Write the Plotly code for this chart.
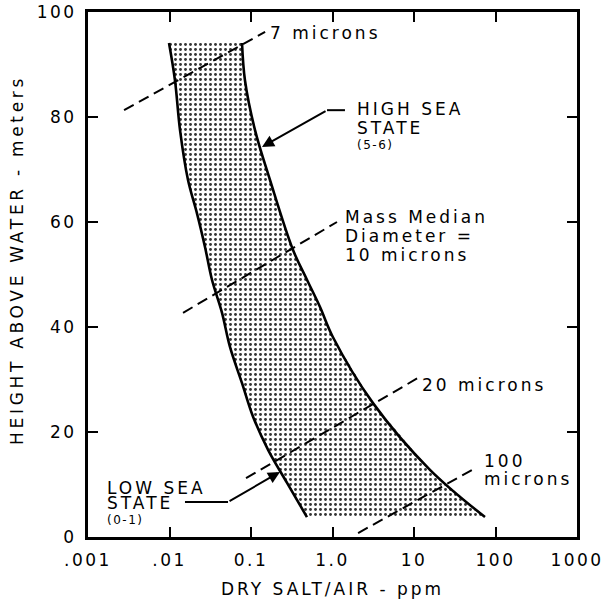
import plotly.graph_objects as go
import math

# ---- data ----
low_sea_x = [0.00986, 0.01167, 0.01346, 0.01687, 0.0217, 0.0273, 0.0332, 0.0441,
             0.0552, 0.0776, 0.106, 0.162, 0.277, 0.486]
low_sea_y = [94.1, 87.0, 77.5, 68.0, 61.7, 55.2, 49.0, 42.7, 36.2, 29.3, 22.9, 16.6, 10.3, 3.8]

high_sea_x = [0.0776, 0.0843, 0.112, 0.171, 0.327, 0.486, 0.703, 1.01, 3.14, 15.7, 74.3]
high_sea_y = [94.1, 87.0, 77.5, 68.0, 54.7, 49.0, 43.8, 38.1, 25.5, 12.8, 3.8]

micron_sizes = ["7", "10", "20", "100"]
micron_x = [[0.00277, 0.149], [0.01466, 1.135], [0.0869, 11.2], [2.06, 59.3]]
micron_y = [[81.3, 96.2], [42.7, 60.0], [11.2, 30.3], [0.76, 13.3]]

x_tickvals = [0.001, 0.01, 0.1, 1, 10, 100, 1000]
x_ticktext = [".001", ".01", "0.1", "1.0", "10", "100", "1000"]
y_tickvals = [0, 20, 40, 60, 80, 100]

FONT = "DejaVu Sans"


def sp(t, ls=3):
    return f"<span style='letter-spacing:{ls}px'>{t}</span>"


fig = go.Figure()

# stippled band between low and high sea state
fig.add_trace(go.Scatter(
    x=low_sea_x + high_sea_x[::-1], y=low_sea_y + high_sea_y[::-1],
    mode="lines", line=dict(width=0, color="rgba(0,0,0,0)"),
    fill="toself", fillcolor="rgba(0,0,0,0)",
    fillpattern=dict(shape=".", size=5, solidity=0.26, fgcolor="#333333",
                     bgcolor="white", fillmode="replace"),
    showlegend=False, hoverinfo="skip"))

for cx, cy in ((low_sea_x, low_sea_y), (high_sea_x, high_sea_y)):
    fig.add_trace(go.Scatter(
        x=cx, y=cy, mode="lines",
        line=dict(color="black", width=2.6, shape="spline", smoothing=1.0),
        showlegend=False, hoverinfo="skip"))

# mass median diameter lines
for xs, ys in zip(micron_x, micron_y):
    fig.add_trace(go.Scatter(
        x=xs, y=ys, mode="lines",
        line=dict(color="black", width=2, dash="11px,6px"),
        showlegend=False, hoverinfo="skip"))

# leader lines (horizontal parts)
fig.add_trace(go.Scatter(x=[10 ** 0.153, 10 ** -0.067], y=[81.3, 81.3], mode="lines",
                         line=dict(color="black", width=2), showlegend=False, hoverinfo="skip"))
fig.add_trace(go.Scatter(x=[10 ** -1.81, 10 ** -1.282], y=[6.67, 6.67], mode="lines",
                         line=dict(color="black", width=2), showlegend=False, hoverinfo="skip"))

ann = []
ann.append(dict(x=-0.865, y=74.3, ax=-0.067, ay=81.3, xref="x", yref="y", axref="x", ayref="y",
                showarrow=True, arrowhead=2, arrowsize=1.2, arrowwidth=2, arrowcolor="black", text=""))
ann.append(dict(x=-0.644, y=12.4, ax=-1.282, ay=6.67, xref="x", yref="y", axref="x", ayref="y",
                showarrow=True, arrowhead=2, arrowsize=1.2, arrowwidth=2, arrowcolor="black", text=""))


def label(x, y, t, size=17, ls=3):
    ann.append(dict(x=math.log10(x), y=y, xref="x", yref="y", text=sp(t, ls), showarrow=False,
                    xanchor="left", yanchor="middle", font=dict(family=FONT, size=size, color="black")))


label(0.162, 96.0, "7 microns")
label(1.89, 81.5, "HIGH SEA")
label(1.89, 78.0, "STATE")
label(1.89, 74.6, "(5-6)", size=12, ls=1.5)
label(1.35, 61.0, "Mass Median")
label(1.35, 57.3, "Diameter =")
label(1.35, 53.8, "10 microns")
label(11.9, 29.0, "20 microns")
label(68, 14.5, "100")
label(68, 11.0, "microns")
label(0.0016, 9.4, "LOW SEA")
label(0.0016, 6.4, "STATE")
label(0.0016, 3.2, "(0-1)", size=12, ls=1.5)

# y-axis title (as rotated text for exact placement)
ann.append(dict(x=-0.1452, y=0.5276, xref="paper", yref="paper", textangle=-90,
                text=sp("HEIGHT ABOVE WATER - meters", 3.7), showarrow=False,
                xanchor="center", yanchor="middle",
                font=dict(family=FONT, size=17, color="black")))

axis_common = dict(
    showline=True, linecolor="black", linewidth=3, mirror="ticks",
    ticks="inside", ticklen=10, tickwidth=2, tickcolor="black",
    showgrid=False, zeroline=False, automargin=False,
    ticklabeloverflow="allow",
    tickfont=dict(family=FONT, size=17, color="black"),
)

fig.update_layout(
    width=606, height=601,
    margin=dict(l=88, r=29, t=12, b=64),
    paper_bgcolor="white", plot_bgcolor="white",
    annotations=ann,
    xaxis=dict(type="log", range=[-3, 3], tickvals=x_tickvals,
               ticktext=[sp(t, 2.5) for t in x_ticktext], ticklabelstandoff=6,
               title=dict(text=sp("DRY SALT/AIR - ppm", 3), standoff=14,
                          font=dict(family=FONT, size=17, color="black")),
               **axis_common),
    yaxis=dict(range=[0, 100], tickvals=y_tickvals,
               ticktext=[sp(str(v), 2.5) for v in y_tickvals], ticklabelstandoff=5,
               **axis_common),
)

fig.write_html("out.html", config={"displayModeBar": False},
               post_script="document.body.style.margin='0';")
